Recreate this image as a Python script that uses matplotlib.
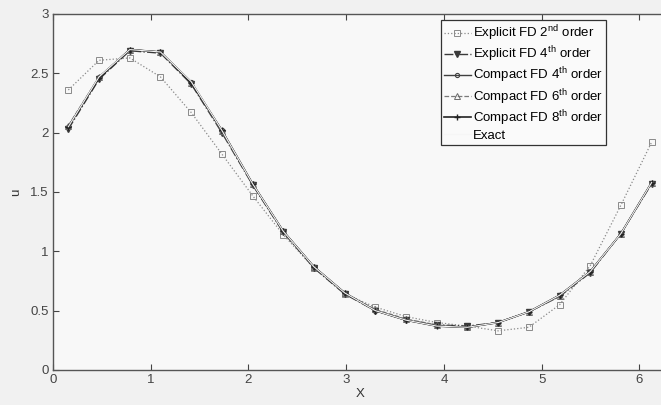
import numpy as np
import matplotlib.pyplot as plt

plt.rcParams['font.family'] = ['Liberation Sans', 'DejaVu Sans']
plt.rcParams['mathtext.fontset'] = 'custom'
plt.rcParams['mathtext.rm'] = 'Liberation Sans'
plt.rcParams['mathtext.it'] = 'Liberation Sans'

# grid points (cell centres, dx = pi/10)
x = [0.157, 0.471, 0.785, 1.100, 1.414, 1.728, 2.042, 2.356, 2.670, 2.985,
     3.299, 3.613, 3.927, 4.241, 4.555, 4.869, 5.184, 5.498, 5.812, 6.126]

explicit2 = [2.36, 2.61, 2.63, 2.47, 2.17, 1.82, 1.47, 1.14, 0.86, 0.64,
             0.53, 0.45, 0.40, 0.37, 0.33, 0.36, 0.55, 0.88, 1.39, 1.92]
explicit4 = [2.03, 2.45, 2.69, 2.67, 2.41, 2.00, 1.56, 1.16, 0.86, 0.64,
             0.50, 0.42, 0.38, 0.37, 0.40, 0.49, 0.62, 0.82, 1.15, 1.57]
compact4 = [2.05, 2.47, 2.70, 2.68, 2.43, 2.02, 1.57, 1.17, 0.87, 0.65,
            0.50, 0.42, 0.37, 0.36, 0.40, 0.49, 0.63, 0.83, 1.15, 1.58]
compact6 = [2.06, 2.47, 2.70, 2.68, 2.42, 2.01, 1.57, 1.17, 0.87, 0.65,
            0.51, 0.43, 0.38, 0.36, 0.40, 0.49, 0.62, 0.83, 1.15, 1.58]
compact8 = [2.05, 2.46, 2.70, 2.68, 2.42, 2.02, 1.57, 1.17, 0.87, 0.65,
            0.50, 0.42, 0.37, 0.36, 0.40, 0.49, 0.63, 0.83, 1.15, 1.58]
exact = [2.05, 2.47, 2.70, 2.68, 2.43, 2.02, 1.57, 1.17, 0.87, 0.65,
         0.50, 0.42, 0.37, 0.36, 0.40, 0.49, 0.63, 0.83, 1.15, 1.58]

labels = [r'Explicit FD 2$^{\mathrm{nd}}$ order',
          r'Explicit FD 4$^{\mathrm{th}}$ order',
          r'Compact FD 4$^{\mathrm{th}}$ order',
          r'Compact FD 6$^{\mathrm{th}}$ order',
          r'Compact FD 8$^{\mathrm{th}}$ order',
          'Exact']

fig = plt.figure(figsize=(6.61, 4.05), dpi=100, facecolor='#f1f1f1')
ax = fig.add_axes([53 / 661, 35 / 405, 614 / 661, 356 / 405], facecolor='#f8f8f8')

ax.plot(x, explicit2, ls=':', color='#8a8a8a', lw=0.9, marker='s', ms=4,
        mfc='none', mec='#8a8a8a', mew=0.7, label=labels[0])
ax.plot(x, explicit4, ls='-.', color='#3a3a3a', lw=1.0, marker='v', ms=4.5,
        mfc='#3a3a3a', mec='#3a3a3a', label=labels[1])
ax.plot(x, compact4, ls='-', color='#404040', lw=1.0, marker='o', ms=3,
        mfc='none', mec='#404040', mew=0.8, label=labels[2])
ax.plot(x, compact6, ls='--', color='#7a7a7a', lw=0.9, marker='^', ms=4,
        mfc='none', mec='#6a6a6a', mew=0.7, label=labels[3])
ax.plot(x, compact8, ls='-', color='#222222', lw=1.2, marker='+', ms=5,
        mew=1.0, label=labels[4])
ax.plot(x, exact, ls='-', color='#f6f6f6', lw=0.8, label=labels[5])

ax.set_xlim(0, 2 * np.pi)
ax.set_ylim(0, 3)
ax.set_xticks(range(0, 7))
ax.set_yticks(np.arange(0, 3.01, 0.5))
ax.set_yticklabels(['0', '0.5', '1', '1.5', '2', '2.5', '3'])
ax.tick_params(direction='in', length=4, width=0.8, colors='#444444',
               labelsize=9.5, top=True, right=True, pad=3)
for s in ax.spines.values():
    s.set_color('#555555')
    s.set_linewidth(1.0)

ax.set_xlabel('X', fontsize=9.5, color='#333333', labelpad=1)
ax.set_ylabel('u', fontsize=9.5, color='#333333', labelpad=6)

leg = ax.legend(loc='upper left', bbox_to_anchor=(388 / 614, 0.983),
                fontsize=9.5, frameon=True, fancybox=False, borderpad=0.25,
                handlelength=2.0, handletextpad=0.15, labelspacing=0.12,
                borderaxespad=0)
leg.get_frame().set_edgecolor('#333333')
leg.get_frame().set_facecolor('#fafafa')
leg.get_frame().set_linewidth(0.9)
leg.get_frame().set_alpha(1)

fig.savefig('out.png', dpi=100, facecolor=fig.get_facecolor())
